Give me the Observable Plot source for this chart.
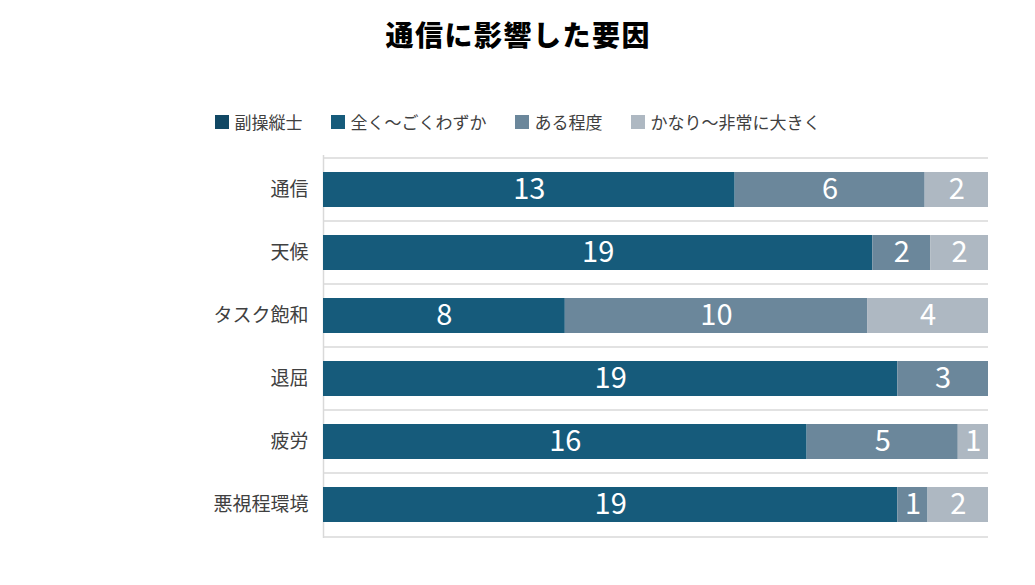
<!DOCTYPE html>
<html>
<head>
<meta charset="utf-8">
<script src="https://cdn.jsdelivr.net/npm/d3@7"></script>
<script src="https://cdn.jsdelivr.net/npm/@observablehq/plot@0.6"></script>
<style>
  body { margin: 0; width: 1035px; height: 585px; background: #fff; position: relative; overflow: hidden;
         font-family: "Noto Sans CJK JP", "Noto Sans", sans-serif; }
  #title { position: absolute; top: 14px; left: 0; width: 1035px; text-align: center; font-size: 28px;
           font-weight: 900; line-height: 40px; letter-spacing: 1.5px; padding-left: 1.5px; box-sizing: border-box; color: #000; }
  #legend { position: absolute; top: 110px; left: 0; width: 1035px; display: flex; justify-content: center;
            gap: 28px; font-size: 17px; line-height: 24px; color: #404040; }
  .item { display: flex; align-items: center; }
  .sw { width: 14px; height: 14px; margin-right: 6px; }
  #chart { position: absolute; top: 140px; left: 0; }
</style>
</head>
<body>
<div id="title">通信に影響した要因</div>
<div id="legend"></div>
<div id="chart"></div>
<script>
const categories = ["通信", "天候", "タスク飽和", "退屈", "疲労", "悪視程環境"];
const series = ["副操縦士", "全く～ごくわずか", "ある程度", "かなり～非常に大きく"];
const colors = ["#114864", "#165b7b", "#6b879b", "#aeb8c2"];
const pilot = [0, 0, 0, 0, 0, 0];
const little = [13, 19, 8, 19, 16, 19];
const some = [6, 2, 10, 3, 5, 1];
const great = [2, 2, 4, 0, 1, 2];

const seriesValues = [pilot, little, some, great];
const table = [];
categories.forEach((c, i) => {
  series.forEach((s, j) => {
    const v = seriesValues[j][i];
    if (v > 0) table.push({cat: c, series: s, value: v});
  });
});

// legend
const legend = document.getElementById("legend");
series.forEach((s, j) => {
  const it = document.createElement("div");
  it.className = "item";
  const sw = document.createElement("div");
  sw.className = "sw";
  sw.style.background = colors[j];
  const t = document.createElement("span");
  t.textContent = s;
  it.appendChild(sw); it.appendChild(t);
  legend.appendChild(it);
});

const W = 1035, H = 445, mT = 15, mB = 47, mL = 323, mR = 47;
const step = (H - mT - mB) / categories.length;

const chart = Plot.plot({
  width: W, height: H,
  marginTop: mT, marginBottom: mB, marginLeft: mL, marginRight: mR,
  style: {fontFamily: "'Noto Sans CJK JP', sans-serif", background: "#fff"},
  x: {domain: [0, 1], axis: null},
  y: {domain: categories, paddingInner: 0.45, paddingOuter: 0.225, label: null,
      tickSize: 0, tickPadding: 15, fontSize: 19},
  color: {domain: series, range: colors},
  marks: [
    Plot.ruleY(categories, {y: d => d, dy: -step / 2, stroke: "#d9d9d9", strokeWidth: 1.5}),
    Plot.ruleY([categories[categories.length - 1]], {y: d => d, dy: step / 2, stroke: "#d9d9d9", strokeWidth: 1.5}),
    Plot.ruleX([0], {stroke: "#d9d9d9", strokeWidth: 1.5}),
    Plot.barX(table, Plot.stackX({x: "value", y: "cat", fill: "series", offset: "normalize", order: series})),
    Plot.text(table, Plot.stackX({x: "value", y: "cat", z: "series", offset: "normalize", order: series,
      text: d => String(d.value), fill: "white", fontSize: 29}))
  ]
});
chart.querySelectorAll("g[aria-label='y-axis tick label'] text, g[aria-label='y-axis tick label']").forEach(e => {
  e.setAttribute("font-size", 19); e.setAttribute("fill", "#404040");
});
document.getElementById("chart").appendChild(chart);
</script>
</body>
</html>
